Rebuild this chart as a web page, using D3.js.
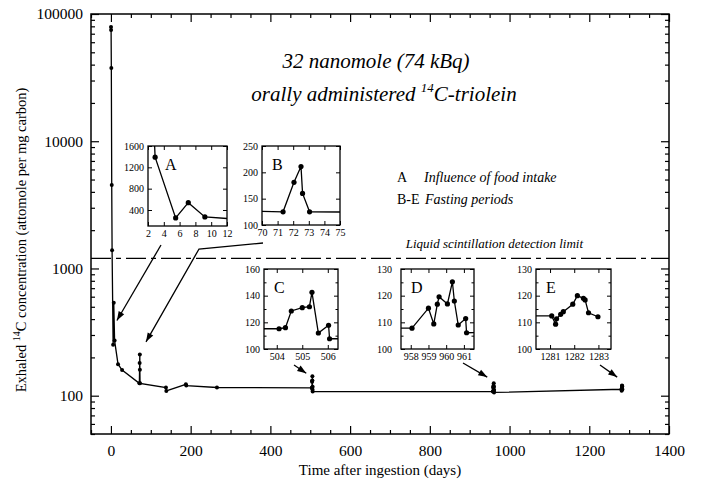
<!DOCTYPE html>
<html>
<head>
<meta charset="utf-8">
<script src="https://cdn.jsdelivr.net/npm/d3@7"></script>
<style>
body { margin: 0; background: #fff; }
svg { display: block; font-family: "Liberation Serif", "Times New Roman", serif; }
</style>
</head>
<body>
<svg id="chart" width="703" height="484"></svg>
<script>
// measured values (days after ingestion, attomole 14C per mg carbon)
const earlyDays = [0.2, 0.4, 1, 2];
const earlyValues = [79000, 74800, 37600, 4530];
const aDays = [2.9, 5.5, 7.1, 9.2];
const aValues = [1390, 252, 537, 271];
const midDays = [17.8, 28];
const midValues = [177, 159];
const bDays = [71.35, 72.05, 72.5, 72.6, 73.05];
const bValues = [125, 181, 211, 160, 125];
const lateDays = [138, 139, 188, 189, 266];
const lateValues = [116, 109, 123, 120, 116];
const cDays = [504.09, 504.34, 504.57, 505.0, 505.28, 505.38, 505.63, 506.03, 506.07];
const cValues = [115.2, 116, 128.5, 131, 131.7, 142.5, 112, 117.8, 107.7];
const dDays = [958.07, 959.0, 959.3, 959.5, 959.6, 960.07, 960.35, 960.46, 960.68, 961.1, 961.15];
const dValues = [107.8, 115.3, 109.4, 116.8, 119.6, 116.9, 125.2, 118, 109, 111.4, 106.1];
const eDays = [1281.07, 1281.23, 1281.27, 1281.44, 1281.55, 1281.94, 1282.13, 1282.38, 1282.45, 1282.59, 1282.98];
const eValues = [112.4, 109.3, 111.3, 113, 114, 116.8, 120, 119, 118.4, 113.6, 112.1];
const detectionLimit = 1200;

const xTicks = [0, 200, 400, 600, 800, 1000, 1200, 1400];
const yTicks = [100, 1000, 10000, 100000];

// whole series, in time order
const allDays = [].concat(earlyDays, aDays, midDays, bDays, lateDays, cDays, dDays, eDays);
const allValues = [].concat(earlyValues, aValues, midValues, bValues, lateValues, cValues, dValues, eValues);
const series = allDays.map((d, i) => ({ day: d, value: allValues[i] }));

const svg = d3.select('#chart');
const plot = { left: 91, right: 669, top: 14, bottom: 434 };

const x = d3.scaleLinear().domain([-50, 1400]).range([plot.left, plot.right]);
const y = d3.scaleLog().domain([50, 100000]).range([plot.bottom, plot.top]);

// minor ticks
const xMinor = d3.range(-50, 1401, 50).filter(v => !xTicks.includes(v));
const yMinor = [];
[10, 100, 1000, 10000].forEach(dec => {
    for (let k = 2; k <= 9; k++) {
        let v = k * dec;
        if (v >= 50 && v <= 100000) yMinor.push(v);
    }
});

function styleAxis(g) {
    g.select('.domain').remove();
    g.selectAll('line').attr('stroke', '#000').attr('stroke-width', 1.2);
    g.selectAll('text').attr('fill', '#000').style('font-size', '15.5px')
        .style('font-family', '"Liberation Serif", serif');
}

svg.append('g').attr('transform', `translate(0,${plot.bottom})`)
    .call(d3.axisBottom(x).tickValues(xTicks).tickSize(-8).tickPadding(11).tickFormat(d3.format('d')))
    .call(styleAxis);
svg.append('g').attr('transform', `translate(0,${plot.bottom})`)
    .call(d3.axisBottom(x).tickValues(xMinor).tickSize(-4).tickFormat(''))
    .call(styleAxis);
svg.append('g').attr('transform', `translate(0,${plot.top})`)
    .call(d3.axisTop(x).tickValues(xTicks).tickSize(-8).tickFormat(''))
    .call(styleAxis);
svg.append('g').attr('transform', `translate(0,${plot.top})`)
    .call(d3.axisTop(x).tickValues(xMinor).tickSize(-4).tickFormat(''))
    .call(styleAxis);

svg.append('g').attr('transform', `translate(${plot.left},0)`)
    .call(d3.axisLeft(y).tickValues(yTicks).tickSize(-8).tickPadding(8).tickFormat(d3.format('d')))
    .call(styleAxis);
svg.append('g').attr('transform', `translate(${plot.left},0)`)
    .call(d3.axisLeft(y).tickValues(yMinor).tickSize(-4).tickFormat(''))
    .call(styleAxis);
svg.append('g').attr('transform', `translate(${plot.right},0)`)
    .call(d3.axisRight(y).tickValues(yTicks).tickSize(-8).tickFormat(''))
    .call(styleAxis);
svg.append('g').attr('transform', `translate(${plot.right},0)`)
    .call(d3.axisRight(y).tickValues(yMinor).tickSize(-4).tickFormat(''))
    .call(styleAxis);

svg.append('rect')
    .attr('x', plot.left).attr('y', plot.top)
    .attr('width', plot.right - plot.left).attr('height', plot.bottom - plot.top)
    .attr('fill', 'none').attr('stroke', '#000').attr('stroke-width', 1.5);

// axis titles
svg.append('text')
    .attr('x', (plot.left + plot.right) / 2).attr('y', 475)
    .attr('text-anchor', 'middle').style('font-size', '15px')
    .text('Time after ingestion (days)');

svg.append('text')
    .attr('transform', 'translate(26,240) rotate(-90)')
    .attr('text-anchor', 'middle').style('font-size', '14.5px')
    .call(t => {
        t.append('tspan').text('Exhaled ');
        t.append('tspan').attr('dy', -6).style('font-size', '10px').text('14');
        t.append('tspan').attr('dy', 6).text('C concentration (attomole per mg carbon)');
    });

// title
svg.append('text')
    .attr('x', 376).attr('y', 68).attr('text-anchor', 'middle')
    .style('font-style', 'italic').style('font-size', '21px')
    .text('32 nanomole (74 kBq)');
svg.append('text')
    .attr('x', 384).attr('y', 101).attr('text-anchor', 'middle')
    .style('font-style', 'italic').style('font-size', '21px')
    .call(t => {
        t.append('tspan').text('orally administered ');
        t.append('tspan').attr('dy', -9).style('font-size', '13px').text('14');
        t.append('tspan').attr('dy', 9).text('C-triolein');
    });

// legend notes
svg.append('text').attr('x', 397).attr('y', 182).style('font-size', '14px').text('A');
svg.append('text').attr('x', 424).attr('y', 182).style('font-size', '14px')
    .style('font-style', 'italic').text('Influence of food intake');
svg.append('text').attr('x', 397).attr('y', 204).style('font-size', '14px').text('B-E');
svg.append('text').attr('x', 425).attr('y', 204).style('font-size', '14px')
    .style('font-style', 'italic').text('Fasting periods');

// detection limit
svg.append('line')
    .attr('x1', plot.left).attr('x2', plot.right)
    .attr('y1', y(detectionLimit)).attr('y2', y(detectionLimit))
    .attr('stroke', '#000').attr('stroke-width', 1.2)
    .attr('stroke-dasharray', '20,5,5,5');
svg.append('text')
    .attr('x', 583).attr('y', y(detectionLimit) - 10).attr('text-anchor', 'end')
    .style('font-style', 'italic').style('font-size', '13px')
    .text('Liquid scintillation detection limit');

// main series
const line = d3.line().x(d => x(d.day)).y(d => y(d.value));
svg.append('path').datum(series)
    .attr('d', line).attr('fill', 'none')
    .attr('stroke', '#000').attr('stroke-width', 1.3);
svg.append('g').selectAll('circle').data(series).join('circle')
    .attr('cx', d => x(d.day)).attr('cy', d => y(d.value))
    .attr('r', 2).attr('fill', '#000');

// insets
const insets = [
    { label: 'A', box: { x: 148, y: 146, w: 79, h: 80 }, xDomain: [2, 12], yDomain: [100, 1600],
      xTicks: [2, 4, 6, 8, 10, 12], yTicks: [400, 800, 1200, 1600], yMinor: [], labelGap: 4,
      arrow: { from: [13, 19], to: [15, 390] } },
    { label: 'B', box: { x: 262, y: 146, w: 78, h: 79 }, xDomain: [70, 75], yDomain: [100, 250],
      xTicks: [70, 71, 72, 73, 74, 75], yTicks: [100, 150, 200, 250], yMinor: [], labelGap: 4,
      arrow: { from: [1, 18], via: [-63, 24], to: [88, 265] } },
    { label: 'C', box: { x: 264, y: 269, w: 74, h: 80 }, xDomain: [503.5, 506.4], yDomain: [100, 160],
      xTicks: [504, 505, 506], yTicks: [100, 120, 140, 160], yMinor: [110, 130, 150], labelGap: 4,
      arrow: { from: [30, 16], to: [490, 150] } },
    { label: 'D', box: { x: 401, y: 269, w: 73, h: 80 }, xDomain: [957.45, 961.57], yDomain: [100, 130],
      xTicks: [958, 959, 960, 961], yTicks: [100, 110, 120, 130], yMinor: [105, 115, 125], labelGap: 9,
      arrow: { from: [62, 14], to: [944, 140] } },
    { label: 'E', box: { x: 536, y: 269, w: 75, h: 80 }, xDomain: [1280.42, 1283.52], yDomain: [100, 130],
      xTicks: [1281, 1282, 1283], yTicks: [100, 110, 120, 130], yMinor: [105, 115, 125], labelGap: 4,
      arrow: { from: [64, 16], to: [1270, 140] } }
];

function drawArrow(pts) {
    svg.append('path').attr('d', d3.line()(pts))
        .attr('fill', 'none').attr('stroke', '#000').attr('stroke-width', 1.3);
    let [x0, y0] = pts[pts.length - 2];
    let [x1, y1] = pts[pts.length - 1];
    let a = Math.atan2(y1 - y0, x1 - x0);
    let len = 9, hw = 3.2;
    let bx = x1 - len * Math.cos(a), by = y1 - len * Math.sin(a);
    let head = [
        [x1, y1],
        [bx + hw * Math.sin(a), by - hw * Math.cos(a)],
        [bx - hw * Math.sin(a), by + hw * Math.cos(a)]
    ];
    svg.append('path').attr('d', d3.line()(head) + 'Z').attr('fill', '#000');
}

insets.forEach(cfg => {
    const b = cfg.box;
    const ix = d3.scaleLinear().domain(cfg.xDomain).range([b.x, b.x + b.w]);
    const iy = d3.scaleLinear().domain(cfg.yDomain).range([b.y + b.h, b.y]);
    const g = svg.append('g').attr('class', 'inset');

    g.append('rect').attr('x', b.x).attr('y', b.y).attr('width', b.w).attr('height', b.h)
        .attr('fill', '#fff');
    g.append('clipPath').attr('id', 'clip-' + cfg.label)
        .append('rect').attr('x', b.x).attr('y', b.y).attr('width', b.w).attr('height', b.h);

    const inner = g.append('g').attr('clip-path', `url(#clip-${cfg.label})`);
    inner.append('path').datum(series)
        .attr('d', d3.line().x(d => ix(d.day)).y(d => iy(d.value)))
        .attr('fill', 'none').attr('stroke', '#000').attr('stroke-width', 1.3);
    inner.selectAll('circle')
        .data(series.filter(d => d.day >= cfg.xDomain[0] && d.day <= cfg.xDomain[1]))
        .join('circle')
        .attr('cx', d => ix(d.day)).attr('cy', d => iy(d.value))
        .attr('r', 2.6).attr('fill', '#000');

    // inward ticks on all sides
    const tickStyle = sel => {
        sel.select('.domain').remove();
        sel.selectAll('line').attr('stroke', '#000').attr('stroke-width', 1);
        sel.selectAll('text').attr('fill', '#000').style('font-size', '10px')
            .style('font-family', '"Liberation Serif", serif');
    };
    g.append('g').attr('transform', `translate(0,${b.y + b.h})`)
        .call(d3.axisBottom(ix).tickValues(cfg.xTicks).tickSize(-4).tickPadding(4).tickFormat(d3.format('d')))
        .call(tickStyle);
    g.append('g').attr('transform', `translate(0,${b.y})`)
        .call(d3.axisTop(ix).tickValues(cfg.xTicks).tickSize(-4).tickFormat(''))
        .call(tickStyle);
    g.append('g').attr('transform', `translate(${b.x},0)`)
        .call(d3.axisLeft(iy).tickValues(cfg.yTicks).tickSize(-4).tickPadding(cfg.labelGap).tickFormat(d3.format('d')))
        .call(tickStyle);
    g.append('g').attr('transform', `translate(${b.x + b.w},0)`)
        .call(d3.axisRight(iy).tickValues(cfg.yTicks).tickSize(-4).tickFormat(''))
        .call(tickStyle);
    if (cfg.yMinor.length) {
        g.append('g').attr('transform', `translate(${b.x},0)`)
            .call(d3.axisLeft(iy).tickValues(cfg.yMinor).tickSize(-2.5).tickFormat(''))
            .call(tickStyle);
        g.append('g').attr('transform', `translate(${b.x + b.w},0)`)
            .call(d3.axisRight(iy).tickValues(cfg.yMinor).tickSize(-2.5).tickFormat(''))
            .call(tickStyle);
    }

    g.append('rect').attr('x', b.x).attr('y', b.y).attr('width', b.w).attr('height', b.h)
        .attr('fill', 'none').attr('stroke', '#000').attr('stroke-width', 1.3);

    g.append('text').attr('x', b.x + (cfg.label === 'A' ? 17 : 10)).attr('y', b.y + 24)
        .style('font-size', '16px').text(cfg.label);

    // arrow to the matching part of the main curve
    const origin = [b.x, b.y + b.h];
    let pts = [[origin[0] + cfg.arrow.from[0], origin[1] + cfg.arrow.from[1]]];
    if (cfg.arrow.via) pts.push([origin[0] + cfg.arrow.via[0], origin[1] + cfg.arrow.via[1]]);
    pts.push([x(cfg.arrow.to[0]), y(cfg.arrow.to[1])]);
    drawArrow(pts);
});
</script>
</body>
</html>
